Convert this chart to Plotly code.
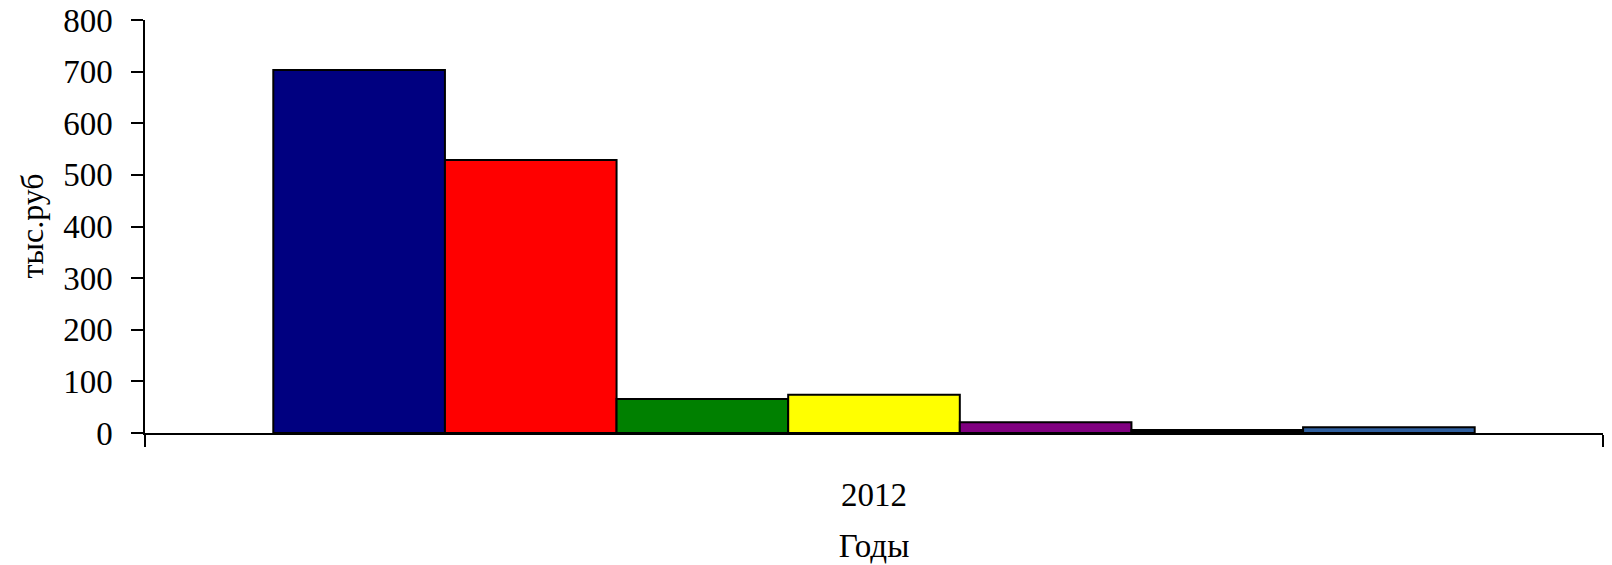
import plotly.graph_objects as go

categories = ["2012"]
series_names = ["Серия 1", "Серия 2", "Серия 3", "Серия 4", "Серия 5", "Серия 6", "Серия 7"]
series_values = [703, 529, 66, 74, 21, 6, 11]
series_colors = ["#000080", "#FF0000", "#008000", "#FFFF00", "#800080", "#000000", "#2F5F9F"]
y_ticks = [0, 100, 200, 300, 400, 500, 600, 700, 800]

FONT = "Liberation Serif, Times New Roman, serif"

fig = go.Figure()
for name, val, col in zip(series_names, series_values, series_colors):
    fig.add_trace(go.Bar(
        x=categories, y=[val], name=name,
        marker=dict(color=col, line=dict(color="#000000", width=2)),
    ))

fig.update_layout(
    width=1612, height=565,
    margin=dict(l=145, r=9, t=20, b=132),
    paper_bgcolor="white", plot_bgcolor="white",
    barmode="group", bargap=0.176, bargroupgap=0,
    showlegend=False,
    font=dict(family=FONT, color="black", size=33),
    annotations=[dict(
        text="тыс.руб", textangle=-90,
        xref="paper", yref="paper", x=0, y=0.50, xshift=-114,
        xanchor="center", yanchor="middle", showarrow=False,
        font=dict(family=FONT, size=32, color="black"),
    )],
)
fig.update_yaxes(
    range=[0, 800], tickvals=y_ticks, automargin=False,
    showgrid=False, zeroline=False,
    showline=True, linecolor="black", linewidth=1.5,
    ticks="outside", ticklen=12, tickcolor="black", tickwidth=1.5,
    ticklabelstandoff=12, ticklabeloverflow="allow",
    tickfont=dict(family=FONT, size=33, color="black"),
)
fig.update_xaxes(
    type="category", automargin=False,
    showgrid=False, zeroline=False,
    showline=True, linecolor="black", linewidth=1.5,
    ticks="outside", tickson="boundaries", ticklen=12, tickcolor="black", tickwidth=1.5,
    ticklabelstandoff=32, ticklabeloverflow="allow",
    tickfont=dict(family=FONT, size=33, color="black"),
    title=dict(text="Годы", font=dict(family=FONT, size=33, color="black"), standoff=22),
)

fig.write_html(
    "out.html",
    config={"displayModeBar": False},
    post_script="document.body.style.margin='0';document.body.style.overflow='hidden';",
)
